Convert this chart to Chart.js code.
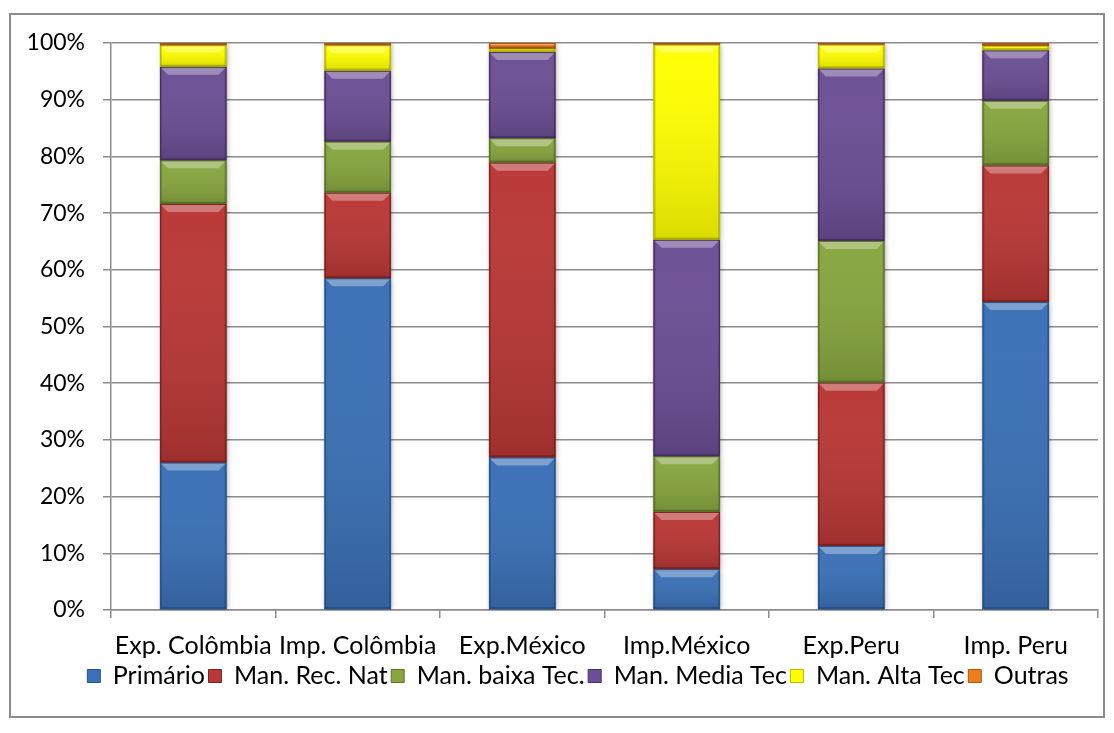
<!DOCTYPE html>
<html>
<head>
<meta charset="utf-8">
<title>Exportações e importações por intensidade tecnológica</title>
<script src="https://cdn.jsdelivr.net/npm/chart.js"></script>
<style>
    body {
        margin: 0;
        background: #fff;
    }

    .frame {
        position: absolute;
        left: 9px;
        top: 13px;
        width: 1096px;
        height: 705px;
        border: 2px solid #8c8c8c;
        box-sizing: border-box;
    }

    .wrap {
        position: absolute;
        left: 0;
        top: 0;
        width: 1114px;
        height: 733px;
    }
</style>
</head>
<body>
<div class="frame"></div>
<div class="wrap"><canvas id="chart" width="1114" height="733"></canvas></div>

<script>
// participação (%) de cada grupo no total
const categorias = ["Exp. Colômbia", "Imp. Colômbia", "Exp.México", "Imp.México", "Exp.Peru", "Imp. Peru"];
const primario  = [26.0, 58.5, 26.9,  7.2, 11.3, 54.3];
const recNat    = [45.6, 15.1, 52.0, 10.1, 28.8, 24.1];
const baixaTec  = [ 7.7,  9.0,  4.3,  9.8, 25.0, 11.4];
const mediaTec  = [16.5, 12.5, 15.2, 38.2, 30.4,  8.9];
const altaTec   = [ 3.8,  4.5,  0.6, 34.4,  4.2,  0.8];
const outras    = [ 0.4,  0.4,  1.0,  0.3,  0.3,  0.5];
const yTicks    = [0, 10, 20, 30, 40, 50, 60, 70, 80, 90, 100];

const series = [
    { label: "Primário",         data: primario, color: "#3a70b6", edge: "#24558f" },
    { label: "Man. Rec. Nat",    data: recNat,   color: "#b93735", edge: "#7c2321" },
    { label: "Man. baixa Tec.",  data: baixaTec, color: "#86a53e", edge: "#5b7328" },
    { label: "Man. Media Tec",   data: mediaTec, color: "#6b4e94", edge: "#45305f" },
    { label: "Man. Alta Tec",    data: altaTec,  color: "#ffff00", edge: "#b9b900" },
    { label: "Outras",           data: outras,   color: "#ee7d1c", edge: "#b0540a" }
];

const font = "Lato, 'Open Sans', sans-serif";

// sombra suave atrás das colunas
const barShadow = {
    id: "barShadow",
    beforeDatasetsDraw(chart) {
        const ctx = chart.ctx;
        ctx.save();
        ctx.shadowColor = "rgba(0,0,0,0.35)";
        ctx.shadowBlur = 5;
        ctx.shadowOffsetX = 1;
        ctx.shadowOffsetY = 1;
    },
    afterDatasetsDraw(chart) {
        chart.ctx.restore();
    }
};

// legenda um pouco deslocada para a direita
const legendShift = {
    id: "legendShift",
    afterLayout(chart) {
        chart.legend.left += 23;
        chart.legend.right += 23;
    }
};

// efeito de bisel em cada segmento
const bevel = {
    id: "bevel",
    afterDatasetsDraw(chart) {
        const ctx = chart.ctx;
        ctx.save();
        chart.data.datasets.forEach((ds, di) => {
            const meta = chart.getDatasetMeta(di);
            meta.data.forEach(bar => {
                const p = bar.getProps(["x", "y", "base", "width"], true);
                const left = p.x - p.width / 2;
                const right = p.x + p.width / 2;
                const top = Math.min(p.y, p.base);
                const bottom = Math.max(p.y, p.base);
                const h = bottom - top;
                if (h < 1) return;
                // escurece para baixo
                const g = ctx.createLinearGradient(0, top, 0, bottom);
                g.addColorStop(0, "rgba(255,255,255,0.02)");
                g.addColorStop(1, "rgba(0,0,0,0.14)");
                ctx.fillStyle = g;
                ctx.fillRect(left, top, p.width, h);
                const b = Math.min(8, h / 3);
                // faixa clara no topo
                ctx.fillStyle = "rgba(255,255,255,0.33)";
                ctx.beginPath();
                ctx.moveTo(left, top);
                ctx.lineTo(right, top);
                ctx.lineTo(right - b, top + b);
                ctx.lineTo(left + b, top + b);
                ctx.closePath();
                ctx.fill();
                // laterais e base mais escuras
                ctx.fillStyle = "rgba(0,0,0,0.16)";
                ctx.fillRect(left, top, 2, h);
                ctx.fillRect(right - 2, top, 2, h);
                ctx.fillStyle = "rgba(0,0,0,0.22)";
                ctx.fillRect(left, bottom - 2, p.width, Math.min(2, h));
                // contorno
                ctx.strokeStyle = ds.edgeColor;
                ctx.lineWidth = 1;
                ctx.strokeRect(left + 0.5, top + 0.5, p.width - 1, h - 1);
            });
        });
        ctx.restore();
    }
};

new Chart(document.getElementById("chart"), {
    type: "bar",
    data: {
        labels: categorias,
        datasets: series.map(s => ({
            label: s.label,
            data: s.data,
            backgroundColor: s.color,
            edgeColor: s.edge,
            borderWidth: 0,
            categoryPercentage: 1,
            barPercentage: 0.405
        }))
    },
    options: {
        responsive: false,
        animation: false,
        devicePixelRatio: 1,
        layout: {
            padding: { left: 12, right: 16, top: 43, bottom: 34.5 }
        },
        plugins: {
            tooltip: { enabled: false },
            legend: {
                position: "bottom",
                labels: {
                    color: "#000",
                    font: { family: font, size: 25 },
                    boxWidth: 13,
                    boxHeight: 13,
                    padding: 3.5,
                    generateLabels(chart) {
                        return chart.data.datasets.map((ds, i) => ({
                            text: ds.label,
                            fillStyle: ds.backgroundColor,
                            strokeStyle: ds.edgeColor,
                            lineWidth: 1,
                            datasetIndex: i
                        }));
                    }
                }
            }
        },
        scales: {
            x: {
                stacked: true,
                afterFit(axis) { axis.height = 50; },
                grid: {
                    offset: true,
                    drawOnChartArea: false,
                    tickLength: 8,
                    color: "#8c8c8c",
                    lineWidth: 1.5
                },
                border: { color: "#8c8c8c", width: 1.5 },
                ticks: {
                    color: "#000",
                    padding: 15.5,
                    maxRotation: 0,
                    font: { family: font, size: 25, lineHeight: 1 }
                }
            },
            y: {
                stacked: true,
                min: 0,
                max: 100,
                afterFit(axis) { axis.width = 99; },
                afterBuildTicks(axis) {
                    axis.ticks = yTicks.map(v => ({ value: v }));
                },
                grid: {
                    color: "#8c8c8c",
                    lineWidth: 1.5,
                    tickLength: 8
                },
                border: { color: "#8c8c8c", width: 1.5 },
                ticks: {
                    color: "#000",
                    padding: 18,
                    font: { family: font, size: 23 },
                    callback: v => v + "%"
                }
            }
        }
    },
    plugins: [barShadow, legendShift, bevel]
});
</script>
</body>
</html>
